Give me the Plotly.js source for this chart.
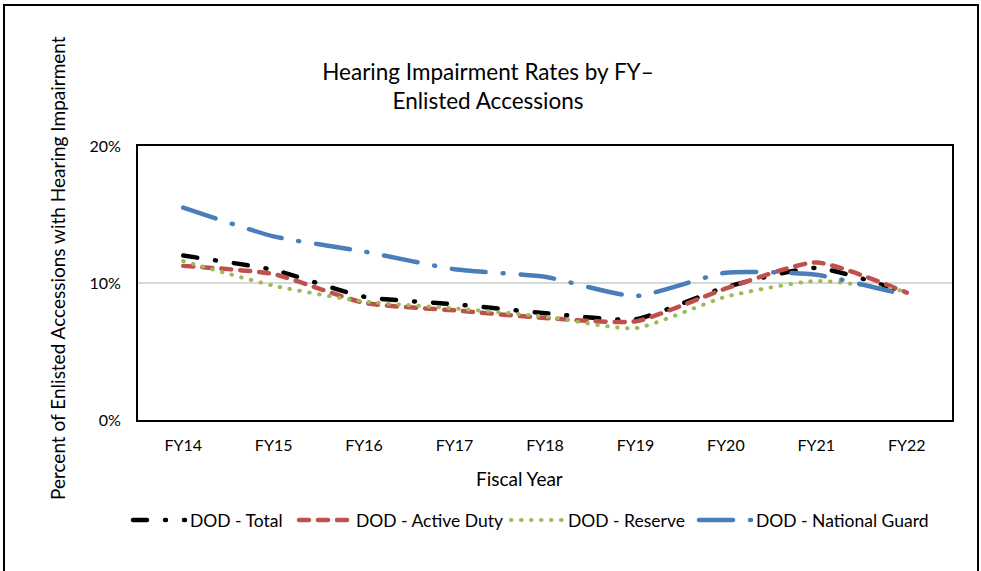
<!DOCTYPE html>
<html>
<head>
<meta charset="utf-8">
<script src="https://cdn.plot.ly/plotly-3.0.1.min.js"></script>
<style>
  html, body { margin: 0; padding: 0; background: #ffffff; }
  #wrap { position: relative; width: 981px; height: 571px; overflow: hidden; }
  #chart { width: 981px; height: 571px; }
  #frame { position: absolute; left: 3px; top: 4px; width: 976px; height: 600px;
           border: 2px solid #000; box-sizing: border-box; pointer-events: none; }
  .js-line { stroke-linecap: round; }
</style>
</head>
<body>
<div id="wrap">
  <div id="chart"></div>
  <div id="frame"></div>
</div>
<script>
// Data (percent of enlisted accessions with hearing impairment)
const fiscalYears = ["FY14", "FY15", "FY16", "FY17", "FY18", "FY19", "FY20", "FY21", "FY22"];
const dodTotal    = [12.0, 10.95, 9.0, 8.45, 7.8, 7.35, 9.7, 11.1, 9.3];
const activeDuty  = [11.25, 10.65, 8.55, 8.0, 7.45, 7.2, 9.6, 11.5, 9.3];
const reserve     = [11.6, 9.8, 8.65, 8.15, 7.55, 6.7, 9.0, 10.15, 9.4];
const natGuard    = [15.5, 13.4, 12.3, 11.0, 10.45, 9.05, 10.75, 10.6, 9.1];
const seriesNames = ["DOD - Total", "DOD - Active Duty", "DOD - Reserve", "DOD - National Guard"];

const FONT = "Lato, 'Open Sans', sans-serif";

const traces = [
  { x: fiscalYears, y: dodTotal, name: seriesNames[0], legend: "legend",
    mode: "lines", line: { color: "#000000", width: 4.5, dash: "14px,18px,1px,18px", shape: "spline", smoothing: 0.55 } },
  { x: fiscalYears, y: activeDuty, name: seriesNames[1], legend: "legend2",
    mode: "lines", line: { color: "#c0504d", width: 4.5, dash: "10px,9px", shape: "spline", smoothing: 0.55 } },
  { x: fiscalYears, y: reserve, name: seriesNames[2], legend: "legend3",
    mode: "lines", line: { color: "#9bbb59", width: 4, dash: "0.5px,9.5px", shape: "spline", smoothing: 0.55 } },
  { x: fiscalYears, y: natGuard, name: seriesNames[3], legend: "legend4",
    mode: "lines", line: { color: "#4a7ebb", width: 4.5, dash: "34px,17px,1px,17px", shape: "spline", smoothing: 0.55 } }
];

function leg(xpx) {
  return {
    orientation: "h", x: (xpx - 138) / 814, xanchor: "left",
    y: (420 - 520) / 274, yanchor: "middle",
    font: { family: FONT, size: 17.5, color: "#000" },
    bgcolor: "rgba(0,0,0,0)", itemwidth: 52
  };
}

const layout = {
  width: 981, height: 571,
  margin: { l: 138, r: 29, t: 146, b: 151 },
  paper_bgcolor: "#ffffff", plot_bgcolor: "#ffffff",
  font: { family: FONT, color: "#000" },
  title: {
    text: "Hearing Impairment Rates by FY–<br>Enlisted Accessions",
    font: { family: FONT, size: 22.5, color: "#000" },
    xref: "container", x: 488 / 981, xanchor: "center",
    yref: "container", y: 1 - 80 / 571, yanchor: "middle"
  },
  xaxis: {
    type: "category", range: [-0.5, 8.5],
    showline: true, linecolor: "#000", linewidth: 2, mirror: true,
    showgrid: false, zeroline: false, ticks: "",
    tickfont: { family: FONT, size: 16, color: "#000" },
    ticklabelstandoff: 10,
    title: { text: "" }
  },
  yaxis: {
    range: [0, 20], dtick: 10, ticksuffix: "%",
    showline: true, linecolor: "#000", linewidth: 2, mirror: true,
    showgrid: true, gridcolor: "#d9d9d9", gridwidth: 1.5, zeroline: false, ticks: "",
    tickfont: { family: FONT, size: 16, color: "#000" },
    ticklabelstandoff: 12,
    title: { text: "" }
  },
  annotations: [
    { text: "Fiscal Year", xref: "paper", yref: "paper",
      x: (519 - 138) / 814, y: (420 - 478) / 274, xanchor: "center", yanchor: "middle",
      showarrow: false, font: { family: FONT, size: 19, color: "#000" } },
    { text: "Percent of Enlisted Accessions with Hearing Impairment", xref: "paper", yref: "paper",
      x: (57 - 138) / 814, y: (420 - 268) / 274, xanchor: "center", yanchor: "middle",
      textangle: -90, showarrow: false, font: { family: FONT, size: 19, color: "#000" } }
  ],
  showlegend: true,
  legend: leg(128),
  legend2: leg(294),
  legend3: leg(506),
  legend4: leg(694)
};

Plotly.newPlot("chart", traces, layout, { displayModeBar: false, staticPlot: true });
</script>
</body>
</html>
